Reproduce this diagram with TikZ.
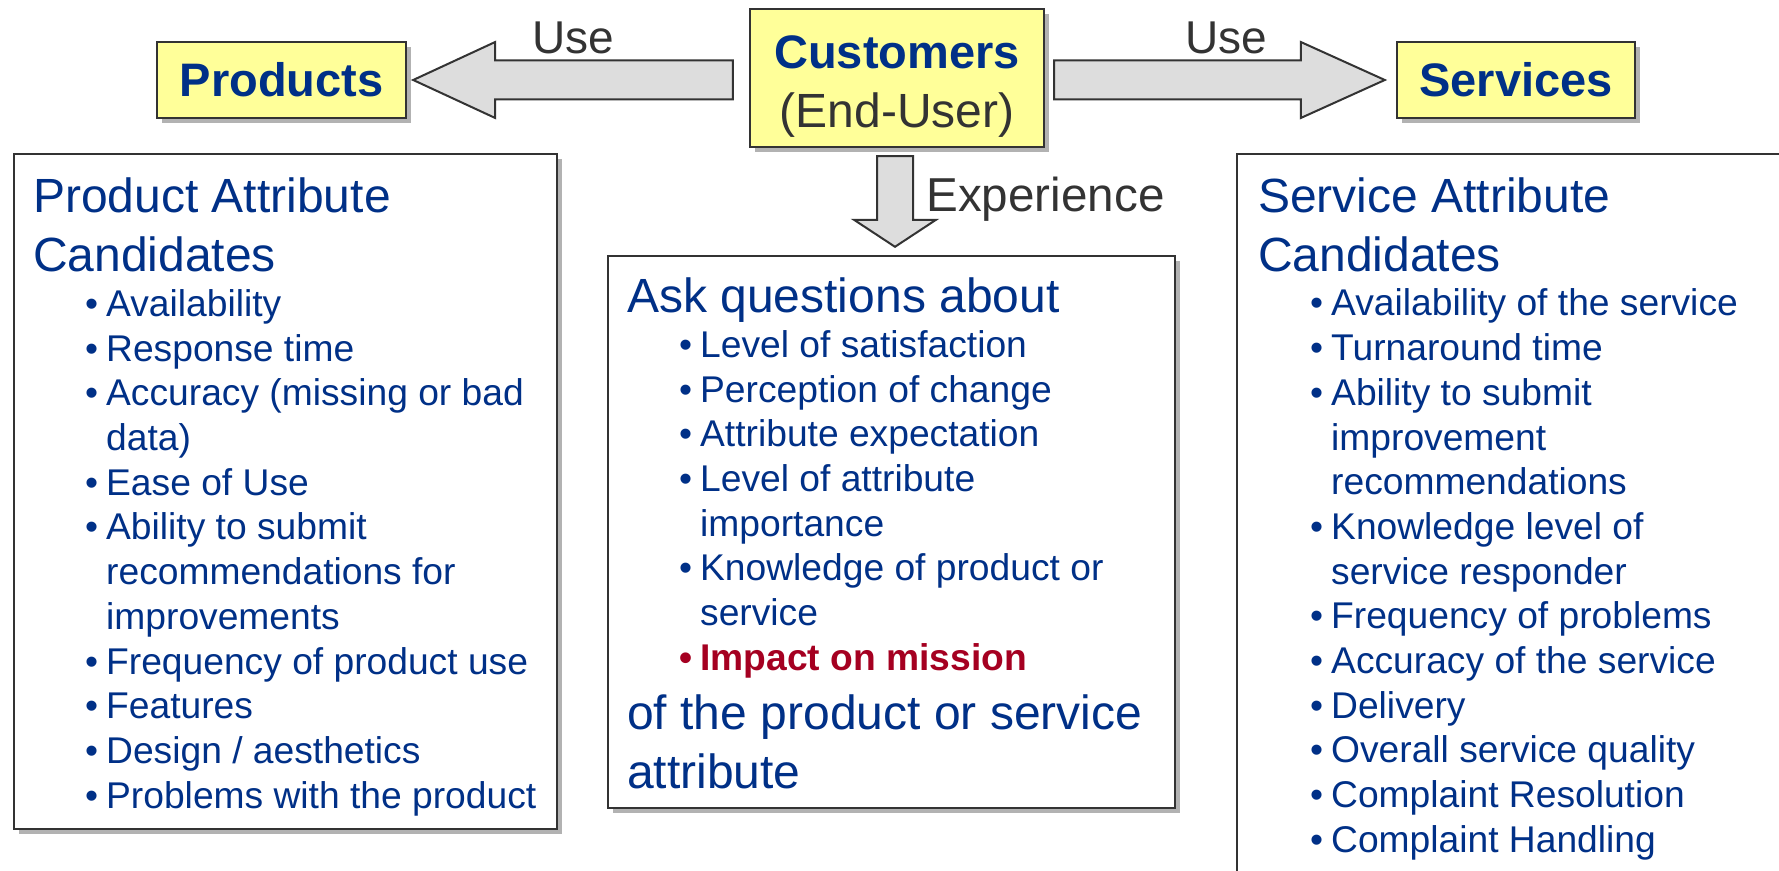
\documentclass[tikz,border=0pt]{standalone}
\usepackage{fontspec}
\setmainfont{Liberation Sans}
\usetikzlibrary{shadows, calc}

\definecolor{navy}{RGB}{0,48,135}
\definecolor{wine}{RGB}{165,0,33}
\definecolor{ink}{RGB}{51,51,51}
\definecolor{paleyellow}{RGB}{255,255,153}
\definecolor{arrowgray}{RGB}{221,221,221}

\newcommand{\headfont}{\fontsize{24pt}{29.5pt}\selectfont\spaceskip=0.278em\relax}
\newcommand{\itemfont}{\fontsize{18.6pt}{22.35pt}\selectfont\spaceskip=0.278em\relax}
\newcommand{\bul}[1]{\hspace*{26pt}\makebox[10.5pt][l]{\textbullet}#1\par}
\newcommand{\cnt}[1]{\hspace*{36.5pt}#1\par}

\tikzset{
  boxshadow/.style={drop shadow={shadow xshift=2.5pt, shadow yshift=-2.5pt, fill=black!30, opacity=1}},
  titlebox/.style={draw=ink, line width=1.2pt, fill=paleyellow, boxshadow, inner sep=0pt,
    font=\fontsize{23.5pt}{28pt}\selectfont\bfseries, text=navy},
  listbox/.style={draw=ink, line width=1.2pt, fill=white, boxshadow, inner sep=0pt},
  listtext/.style={anchor=base west, inner sep=0pt, text width=280pt, text=navy},
  blockarrow/.style={draw=ink, line width=1pt, fill=arrowgray, line join=miter},
  verb/.style={text=ink, inner sep=0pt, font=\fontsize{23pt}{28pt}\selectfont},
}

\begin{document}
\begin{tikzpicture}[x=0.5pt, y=-0.5pt]
\useasboundingbox (0,0) rectangle (1779,871);
\clip (0,0) rectangle (1779,871);

% Top row
\node[titlebox, minimum width=124.5pt, minimum height=38pt] (prod) at (281.5,80) {Products};
\node[titlebox, minimum width=147pt, minimum height=69pt, align=center] (cust) at (897,78)
  {\rule{0pt}{25pt}Customers\\[1.7pt]{\mdseries\fontsize{24pt}{28pt}\selectfont\color{ink}(End-User)}};
\node[titlebox, minimum width=119pt, minimum height=38pt] (serv) at (1516,80) {Services};

% Lists
\node[listbox, minimum width=271.5pt, minimum height=337.5pt] (lbox) at (285.5,491.5) {};
\node[listbox, minimum width=283.5pt, minimum height=276pt] (mbox) at (891.5,532) {};
\node[listbox, minimum width=281.5pt, minimum height=373pt] (rbox) at (1518.5,527) {};

\node[listtext] (ltext) at ($(lbox.north west)+(20,60)$) {%
  {\headfont Product Attribute\par Candidates\par}
  {\itemfont
  \bul{Availability}
  \bul{Response time}
  \bul{Accuracy (missing or bad}
  \cnt{data)}
  \bul{Ease of Use}
  \bul{Ability to submit}
  \cnt{recommendations for}
  \cnt{improvements}
  \bul{Frequency of product use}
  \bul{Features}
  \bul{Design / aesthetics}
  \bul{Problems with the product}}};

\node[listtext] (mtext) at ($(mbox.north west)+(20,58)$) {%
  {\headfont Ask questions about\par}
  {\itemfont
  \bul{Level of satisfaction}
  \bul{Perception of change}
  \bul{Attribute expectation}
  \bul{Level of attribute}
  \cnt{importance}
  \bul{Knowledge of product or}
  \cnt{service}
  {\color{wine}\bfseries\bul{Impact on mission}}}
  {\headfont of the product or service\par attribute\par}};

\node[listtext] (rtext) at ($(rbox.north west)+(22,59.5)$) {%
  {\headfont Service Attribute\par Candidates\par}
  {\itemfont
  \bul{Availability of the service}
  \bul{Turnaround time}
  \bul{Ability to submit}
  \cnt{improvement}
  \cnt{recommendations}
  \bul{Knowledge level of}
  \cnt{service responder}
  \bul{Frequency of problems}
  \bul{Accuracy of the service}
  \bul{Delivery}
  \bul{Overall service quality}
  \bul{Complaint Resolution}
  \bul{Complaint Handling}}};

% Arrows
\coordinate (ltip) at ($(prod.east)+(6,0)$);
\coordinate (ltail) at ($(cust.west |- prod.east)+(-16,0)$);
\draw[blockarrow] (ltip) -- ++(82,-38) |- ($(ltail)+(0,-19.5)$) -- ($(ltail)+(0,19.5)$)
  -| ($(ltip)+(82,38)$) -- cycle;

\coordinate (rtip) at ($(serv.west)+(-11,0)$);
\coordinate (rtail) at ($(cust.east |- serv.west)+(9,0)$);
\draw[blockarrow] (rtip) -- ++(-84,-38) |- ($(rtail)+(0,-19.5)$) -- ($(rtail)+(0,19.5)$)
  -| ($(rtip)+(-84,38)$) -- cycle;

\coordinate (dtail) at ($(cust.south)+(-2,8)$);
\coordinate (dtip) at ($(dtail |- mbox.north)+(0,-8)$);
\draw[blockarrow] (dtip) -- ++(-41,-27) -| ($(dtail)+(-18,0)$) -- ($(dtail)+(18,0)$)
  |- ($(dtip)+(41,-27)$) -- cycle;

% Labels
\node[verb, anchor=base] (luse) at (573,54) {Use};
\node[verb, anchor=base] (ruse) at (1226,54) {Use};
\node[verb, anchor=base west, font=\fontsize{23.8pt}{28pt}\selectfont] (exp) at (926,212) {Experience};

\end{tikzpicture}
\end{document}
